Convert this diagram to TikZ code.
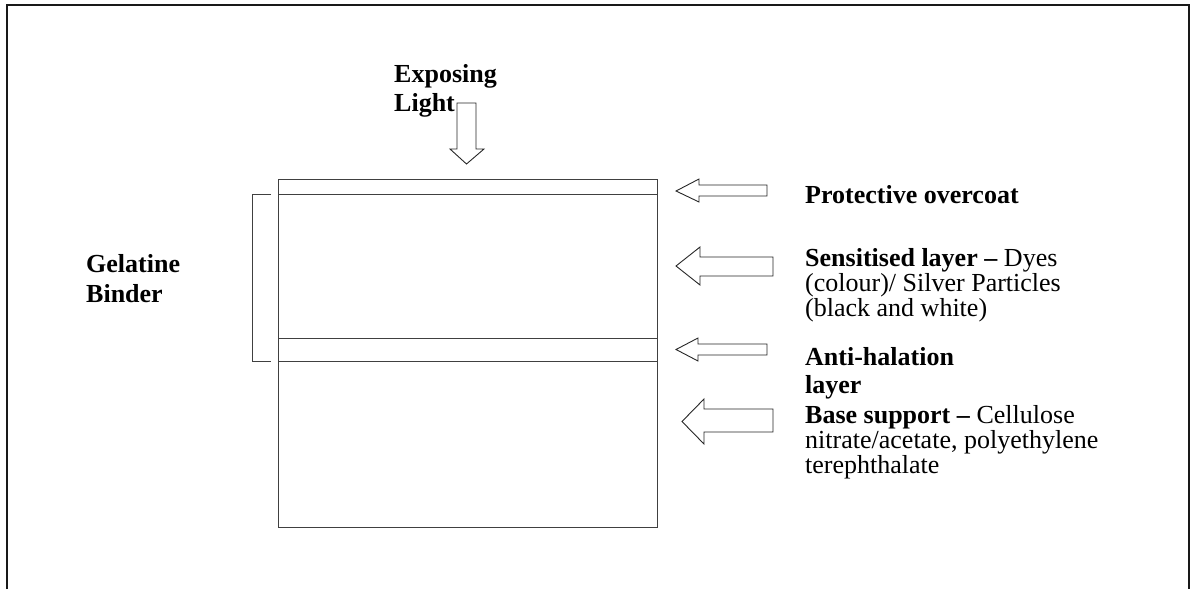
\documentclass[tikz,border=0pt]{standalone}
\usepackage{fontspec}
\setmainfont{Liberation Serif}
\begin{document}
\begin{tikzpicture}[x=1pt,y=-1pt,line join=miter,
  lbl/.style={anchor=base west,inner sep=0pt,align=left,font=\fontsize{26}{25}\selectfont},
  blk/.style={draw=black!85,line width=0.9pt,fill=white},
  ln/.style={draw=black!75,line width=1pt},
  frame/.style={draw=black!90,line width=1.4pt}]
\useasboundingbox (0,0) rectangle (1196,589);
% outer frame (open at the bottom)
\draw[frame] (7,589) -- (7,5) -- (1189,5) -- (1189,589);
% film layers
\draw[ln] (278,179) rectangle (657,527);
\draw[ln] (278,194) -- (657,194);
\draw[ln] (278,338) -- (657,338);
\draw[ln] (278,361) -- (657,361);
% bracket
\draw[ln] (271,194) -- (252,194) -- (252,361) -- (271,361);
% exposing light arrow
\draw[blk] (457,103) -- (476,103) -- (476,149) -- (484,149) -- (466.5,164) -- (450,149) -- (457,149) -- cycle;
% side arrows
\draw[blk] (676,191) -- (699,179) -- (699,185) -- (767,185) -- (767,196) -- (699,196) -- (699,202) -- cycle;
\draw[blk] (676,266) -- (700,247) -- (700,257) -- (773,257) -- (773,276) -- (700,276) -- (700,285) -- cycle;
\draw[blk] (676,349.5) -- (698,338) -- (698,344) -- (767,344) -- (767,355) -- (698,355) -- (698,361) -- cycle;
\draw[blk] (682,421.5) -- (704,399) -- (704,409) -- (773,409) -- (773,432) -- (704,432) -- (704,444) -- cycle;
% labels (base anchor = baseline of the last line)
\node[lbl,font=\fontsize{26}{29}\selectfont] (light) at (394,111) {\textbf{Exposing}\\\textbf{Light}};
\node[lbl,font=\fontsize{26}{30}\selectfont] (gel) at (86,302) {\textbf{Gelatine}\\\textbf{Binder}};
\node[lbl] (prot) at (805,203) {\textbf{Protective overcoat}};
\node[lbl] (sens) at (805,316) {\textbf{Sensitised layer –} Dyes\\(colour)/ Silver Particles\\(black and white)};
\node[lbl,font=\fontsize{26}{28}\selectfont] (anti) at (805,393) {\textbf{Anti-halation}\\\textbf{layer}};
\node[lbl] (base) at (805,473) {\textbf{Base support –} Cellulose\\nitrate/acetate, polyethylene\\terephthalate};
\end{tikzpicture}
\end{document}
